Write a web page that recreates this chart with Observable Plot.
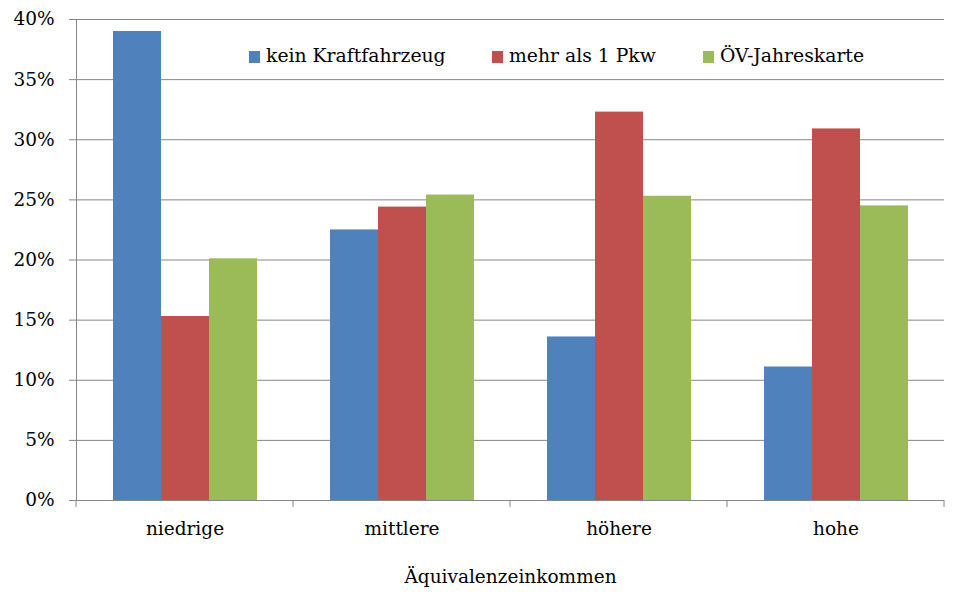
<!DOCTYPE html>
<html><head><meta charset="utf-8">
<script src="https://cdn.jsdelivr.net/npm/d3@7"></script>
<script src="https://cdn.jsdelivr.net/npm/@observablehq/plot@0.6"></script>
<style>
body{margin:0;background:#fff}
#wrap{position:relative;width:965px;height:594px;font-family:"DejaVu Serif",serif;}
#wrap svg text{fill:#000}
.item{position:absolute;top:46px;display:flex;align-items:flex-end;white-space:nowrap;font-size:18.8px;color:#000;line-height:19px}
.sw{width:11px;height:12px;margin-right:6px;margin-bottom:2px}
</style></head><body><div id="wrap"></div>
<script>
const categories = ["niedrige", "mittlere", "höhere", "hohe"];
const series = ["kein Kraftfahrzeug", "mehr als 1 Pkw", "ÖV-Jahreskarte"];
const keinKfz = [0.390, 0.225, 0.136, 0.111];
const mehrPkw = [0.153, 0.244, 0.323, 0.309];
const oevKarte = [0.201, 0.254, 0.253, 0.245];
const yTicks = [0, 0.05, 0.10, 0.15, 0.20, 0.25, 0.30, 0.35, 0.40];
const colors = ["#4F81BD", "#C0504D", "#9BBB59"];
const gridColor = "#868686";

const valuesBySeries = [keinKfz, mehrPkw, oevKarte];
const rows = [];
categories.forEach((c, i) => series.forEach((s, j) => rows.push({cat: c, series: s, value: valuesBySeries[j][i]})));

const chart = Plot.plot({
  width: 965, height: 594,
  marginLeft: 76, marginRight: 21, marginTop: 19, marginBottom: 94,
  style: {fontFamily: "DejaVu Serif, serif", fontSize: "18.5px", color: gridColor, background: "#fff", overflow: "visible"},
  facet: {data: rows, x: "cat"},
  fx: {domain: categories, padding: 0, axis: "bottom", tickSize: 0, tickPadding: 21, label: "Äquivalenzeinkommen", labelAnchor: "center", labelOffset: 82},
  x: {domain: series, paddingInner: 0, paddingOuter: 0.73, axis: null},
  y: {domain: [0, 0.4], ticks: yTicks, tickFormat: d3.format(".0%"), tickSize: 7, tickPadding: 15, line: true, label: null},
  color: {domain: series, range: colors},
  marks: [
    Plot.ruleY(yTicks, {stroke: gridColor, strokeWidth: 1}),
    Plot.barY(rows, {x: "series", y: "value", fill: "series", inset: 0}),
    Plot.ruleY([0], {stroke: gridColor, strokeWidth: 1})
  ]
});

const wrap = document.getElementById("wrap");
wrap.appendChild(chart);

// category boundary ticks from the fx scale
const fx = chart.scale("fx");
const [r0, r1] = fx.range;
const step = (r1 - r0) / categories.length;
const y0 = chart.scale("y").apply(0);
const svg = d3.select(chart);
d3.range(categories.length + 1).forEach(i => {
  svg.append("line")
    .attr("x1", r0 + i * step).attr("x2", r0 + i * step)
    .attr("y1", y0).attr("y2", y0 + 7)
    .attr("stroke", gridColor).attr("stroke-width", 1);
});

// legend inside plot area
const legendX = [249, 492, 703];
series.forEach((s, j) => {
  const it = document.createElement("div");
  it.className = "item";
  it.style.left = legendX[j] + "px";
  const sw = document.createElement("span");
  sw.className = "sw";
  sw.style.background = colors[j];
  const t = document.createElement("span");
  t.textContent = s;
  it.appendChild(sw); it.appendChild(t);
  wrap.appendChild(it);
});
</script></body></html>
